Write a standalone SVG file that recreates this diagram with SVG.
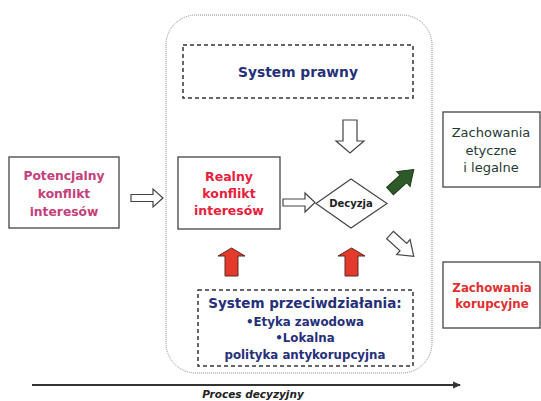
<svg xmlns="http://www.w3.org/2000/svg" width="541" height="401" viewBox="0 0 541 401">
<defs>
<style>
.t{font-family:"DejaVu Sans","Liberation Sans",sans-serif;font-weight:bold;text-anchor:middle}
.box{fill:#fff;stroke:#444;stroke-width:1.3}
.dash{fill:none;stroke:#333;stroke-width:1.5;stroke-dasharray:4 3}
.hollow{fill:#fff;stroke:#444;stroke-width:1.2}
.red{fill:#e33a2c;stroke:#5a2a22;stroke-width:1}
</style>
<marker id="ah" markerWidth="8" markerHeight="8" refX="7" refY="4" orient="auto" markerUnits="userSpaceOnUse">
<path d="M0,0.5 L8,4 L0,7.5 Z" fill="#333"/>
</marker>
</defs>
<rect width="541" height="401" fill="#fff"/>

<g id="frame">
<rect x="166" y="15" width="266" height="358" rx="30" ry="30" fill="none" stroke="#8a8a8a" stroke-width="1" stroke-dasharray="1 1"/>
</g>

<g id="potencjalny">
<rect class="box" x="9" y="157" width="110" height="71"/>
<text class="t" fill="#c4407a" font-size="12.3"><tspan x="64" y="180">Potencjalny</tspan><tspan x="64" y="198">konflikt</tspan><tspan x="64" y="216">interesów</tspan></text>
</g>

<g id="system-prawny">
<rect class="dash" x="183" y="45" width="230" height="53"/>
<text class="t" fill="#26307a" font-size="13.8" x="298" y="77">System prawny</text>
</g>

<g id="realny">
<rect class="box" x="178" y="157" width="102" height="72"/>
<text class="t" fill="#e8203c" font-size="12.5"><tspan x="229" y="181">Realny</tspan><tspan x="229" y="198">konflikt</tspan><tspan x="229" y="215">interesów</tspan></text>
</g>

<g id="decyzja">
<path d="M351,179 L387,203.5 L351,228 L316,203.5 Z" fill="#fff" stroke="#444" stroke-width="1.2"/>
<text class="t" fill="#222" font-size="10" x="351" y="207">Decyzja</text>
</g>

<g id="zachowania-etyczne">
<rect class="box" x="443" y="112" width="97" height="75"/>
<text font-family="DejaVu Sans, sans-serif" font-size="13" fill="#1e3a36" text-anchor="middle"><tspan x="491" y="137">Zachowania</tspan><tspan x="491" y="155">etyczne</tspan><tspan x="491" y="172">i legalne</tspan></text>
</g>

<g id="zachowania-korupcyjne">
<rect class="box" x="443" y="262" width="97" height="66"/>
<text class="t" fill="#e03030" font-size="11.8"><tspan x="492" y="292">Zachowania</tspan><tspan x="492" y="308">korupcyjne</tspan></text>
</g>

<g id="system-przeciwdzialania">
<rect class="dash" x="198" y="290" width="215" height="76"/>
<text class="t" fill="#26307a" font-size="13.5"><tspan x="305" y="308">System przeciwdziałania:</tspan></text>
<text class="t" fill="#26307a" font-size="11.8"><tspan x="305" y="326">•Etyka zawodowa</tspan><tspan x="305" y="342">•Lokalna</tspan><tspan x="305" y="359">polityka antykorupcyjna</tspan></text>
</g>

<g id="connectors">
<path class="hollow" d="M131,194.5 H153 V189 L163,198 L153,207 V201.5 H131 Z"/>
<path class="hollow" d="M283,199 H305 V193 L315,202.5 L305,212 V206 H283 Z"/>
<path class="hollow" d="M343,120 H357 V141 H364 L350,153 L336,141 H343 Z"/>
<path class="red" d="M225,276 V256 H218 L231.5,248 L245,256 H238 V276 Z"/>
<path class="red" d="M345,276 V256 H338 L351.5,248 L365,256 H358 V276 Z"/>
<path d="M0,-5 H18 V-10 L32,0 L18,10 V5 H0 Z" fill="#2e5a2a" stroke="#1e3a1a" stroke-width="1" transform="translate(390,191) rotate(-42)"/>
<path class="hollow" d="M0,-5 H18 V-10 L32,0 L18,10 V5 H0 Z" transform="translate(390,235) rotate(42)"/>
<line x1="32" y1="385" x2="460" y2="385" stroke="#333" stroke-width="2" marker-end="url(#ah)"/>
</g>

<g id="axis-label">
<text font-family="DejaVu Sans, sans-serif" font-weight="bold" font-style="italic" font-size="10.5" fill="#222" text-anchor="middle" x="253" y="397.5">Proces decyzyjny</text>
</g>
</svg>
